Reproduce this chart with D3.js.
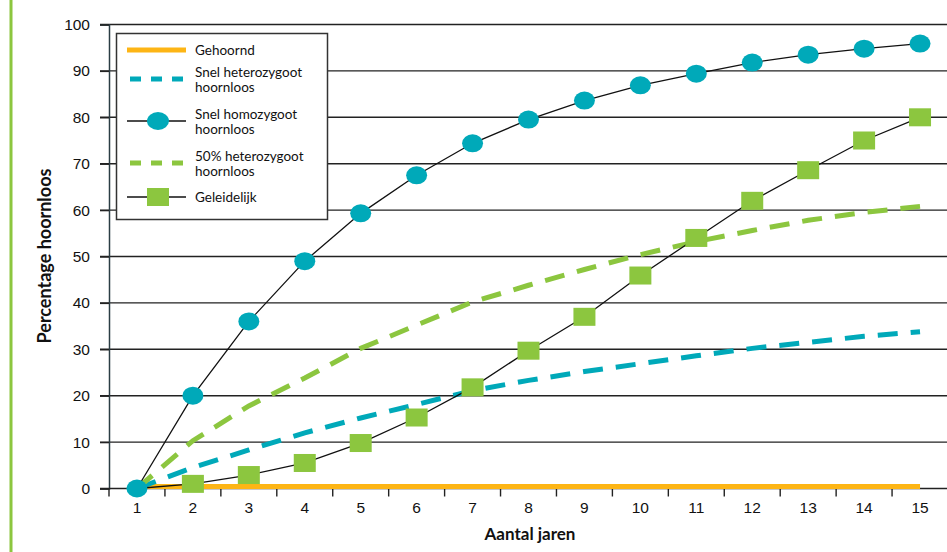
<!DOCTYPE html>
<html><head><meta charset="utf-8">
<script src="https://cdn.jsdelivr.net/npm/d3@7"></script>
<style>body{margin:0;background:#fff}svg{display:block;font-family:Lato,"Open Sans",sans-serif}</style>
</head><body><svg id="c" width="947" height="552"></svg>
<script>
const years = [1,2,3,4,5,6,7,8,9,10,11,12,13,14,15];
const yTicks = [0,10,20,30,40,50,60,70,80,90,100];
const gehoornd = [0,0,0,0,0,0,0,0,0,0,0,0,0,0,0];
const snelHetero = [0,4.5,8.3,12,15.2,18.1,21.1,23.3,25.2,26.9,28.6,30.2,31.5,32.8,33.8];
const snelHomo = [0,20,36,49,59.3,67.5,74.4,79.5,83.6,86.9,89.4,91.8,93.5,94.8,95.9];
const halfHetero = [0,10.3,17.8,23.8,30.2,35.2,40.2,43.8,47.2,50.4,53.2,55.6,57.8,59.5,60.8];
const geleidelijk = [0,1,2.9,5.5,9.8,15.3,21.8,29.7,37,45.9,54,62,68.6,75,80];
const legendLabels = [["Gehoornd"],["Snel heterozygoot","hoornloos"],["Snel homozygoot","hoornloos"],["50% heterozygoot","hoornloos"],["Geleidelijk"]];

const TEAL="#00a9b9", GREEN="#8cc63f", ORANGE="#fdb515";
const svg = d3.select("#c");
const pLeft=109, pTop=24.5, pBottom=488.5, pRight=948;
const x = d3.scaleBand().domain(years).range([pLeft,pRight]);
const y = d3.scaleLinear().domain([0,100]).range([pBottom,pTop]);
const cx = d => x(d)+x.bandwidth()/2;

// left green border
svg.append("line").attr("x1",11).attr("x2",11).attr("y1",0).attr("y2",552).attr("stroke",GREEN).attr("stroke-width",3);

// gridlines
svg.append("g").selectAll("line").data(yTicks.filter(d=>d>0)).join("line")
  .attr("x1",pLeft-9).attr("x2",947).attr("y1",d=>y(d)).attr("y2",d=>y(d))
  .attr("stroke","#222").attr("stroke-width",1.4);

// y axis
const ya = svg.append("g").attr("transform",`translate(${pLeft},0)`)
  .call(d3.axisLeft(y).tickValues(yTicks).tickSize(9).tickPadding(10));
ya.select(".domain").attr("stroke","#2b3d44").attr("stroke-width",1.5);
ya.selectAll(".tick line").attr("stroke","#222").attr("stroke-width",1.4);
ya.selectAll("text").attr("font-size",15.5).attr("fill","#111");

// x axis
svg.append("line").attr("x1",pLeft-9).attr("x2",947).attr("y1",pBottom).attr("y2",pBottom).attr("stroke","#222").attr("stroke-width",1.4);
const xa = svg.append("g").attr("transform",`translate(0,${pBottom})`)
  .call(d3.axisBottom(x).tickSize(0).tickPadding(13));
xa.select(".domain").remove();
xa.selectAll("text").attr("font-size",15.5).attr("fill","#111");
svg.append("g").selectAll("line").data(years).join("line")
  .attr("x1",d=>x(d)).attr("x2",d=>x(d)).attr("y1",pBottom).attr("y2",pBottom+8)
  .attr("stroke","#222").attr("stroke-width",1.4);

// axis titles
svg.append("text").attr("x",530).attr("y",540).attr("text-anchor","middle")
  .attr("font-weight","bold").attr("font-size",17).attr("fill","#111").text("Aantal jaren");
svg.append("text").attr("transform","translate(51,256) rotate(-90)").attr("text-anchor","middle")
  .attr("font-weight","bold").attr("font-size",18).attr("fill","#111").text("Percentage hoornloos");

const line = d3.line().x((d,i)=>cx(years[i])).y(d=>y(d));

// series
svg.append("path").datum(gehoornd).attr("d",line).attr("fill","none").attr("stroke",ORANGE).attr("stroke-width",5).attr("transform","translate(0,-2)");
svg.append("path").datum(snelHetero).attr("d",line).attr("fill","none").attr("stroke",TEAL).attr("stroke-width",5).attr("stroke-dasharray","20,13");
svg.append("path").datum(halfHetero).attr("d",line).attr("fill","none").attr("stroke",GREEN).attr("stroke-width",5).attr("stroke-dasharray","20,13");
svg.append("path").datum(geleidelijk).attr("d",line).attr("fill","none").attr("stroke","#111").attr("stroke-width",1.3);
svg.append("g").selectAll("rect").data(geleidelijk.map((v,i)=>({v,yr:years[i]})).filter(d=>d.yr>1)).join("rect")
  .attr("x",d=>cx(d.yr)-11).attr("y",d=>y(d.v)-9).attr("width",22).attr("height",18).attr("fill",GREEN);
svg.append("path").datum(snelHomo).attr("d",line).attr("fill","none").attr("stroke","#111").attr("stroke-width",1.3);
svg.append("g").selectAll("ellipse").data(snelHomo).join("ellipse")
  .attr("cx",(d,i)=>cx(years[i])).attr("cy",d=>y(d)).attr("rx",10.5).attr("ry",9).attr("fill",TEAL);

// legend
const lg = svg.append("g");
lg.append("rect").attr("x",116.5).attr("y",33.5).attr("width",211).attr("height",186).attr("fill","#fff").attr("stroke","#333").attr("stroke-width",1.5);
const rowsY = [50,79,121,163,197];
const x0=127, x1=186;
lg.append("line").attr("x1",x0).attr("x2",x1).attr("y1",rowsY[0]).attr("y2",rowsY[0]).attr("stroke",ORANGE).attr("stroke-width",5);
lg.append("line").attr("x1",130).attr("x2",x1).attr("y1",rowsY[1]).attr("y2",rowsY[1]).attr("stroke",TEAL).attr("stroke-width",5).attr("stroke-dasharray","11,10");
lg.append("line").attr("x1",x0).attr("x2",x1).attr("y1",rowsY[2]).attr("y2",rowsY[2]).attr("stroke","#111").attr("stroke-width",1.3);
lg.append("ellipse").attr("cx",158).attr("cy",rowsY[2]).attr("rx",11).attr("ry",9).attr("fill",TEAL);
lg.append("line").attr("x1",130).attr("x2",x1).attr("y1",rowsY[3]).attr("y2",rowsY[3]).attr("stroke",GREEN).attr("stroke-width",5).attr("stroke-dasharray","11,10");
lg.append("line").attr("x1",x0).attr("x2",x1).attr("y1",rowsY[4]).attr("y2",rowsY[4]).attr("stroke","#111").attr("stroke-width",1.3);
lg.append("rect").attr("x",147).attr("y",rowsY[4]-9).attr("width",22).attr("height",18).attr("fill",GREEN);
legendLabels.forEach((lab,i)=>{
  const t = lg.append("text").attr("x",195).attr("font-size",13.5).attr("fill","#111");
  const y0 = lab.length===1 ? rowsY[i]+5 : rowsY[i]-2;
  lab.forEach((s,j)=>t.append("tspan").attr("x",195).attr("y",y0+j*15).text(s));
});
</script></body></html>
